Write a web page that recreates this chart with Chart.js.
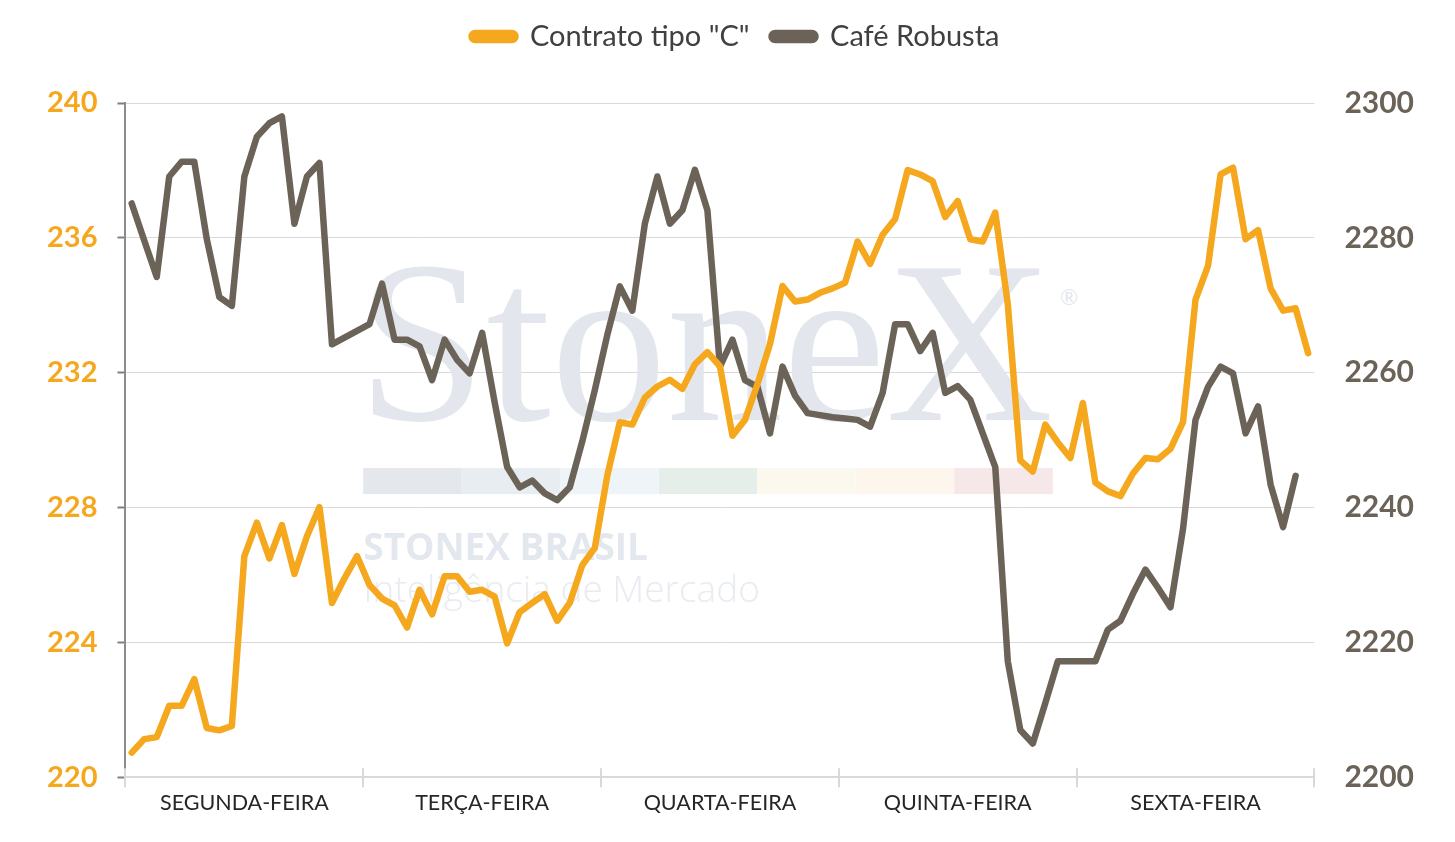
<!DOCTYPE html>
<html>
<head>
<meta charset="utf-8">
<script src="https://cdn.jsdelivr.net/npm/chart.js@4.4.1/dist/chart.umd.min.js"></script>
<style>
  html, body { margin: 0; padding: 0; background: #ffffff; }
  #wrap { width: 1455px; height: 842px; }
</style>
</head>
<body>
<div id="wrap"><canvas id="c" width="1455" height="842"></canvas></div>
<script>
// ---- data ----
const days = ['SEGUNDA-FEIRA', 'TERÇA-FEIRA', 'QUARTA-FEIRA', 'QUINTA-FEIRA', 'SEXTA-FEIRA'];
const pointsPerDay = 19;
const seriesNames = ['Contrato tipo "C"', 'Café Robusta'];

const contratoC = [
  220.73, 221.13, 221.19, 222.12, 222.12, 222.91, 221.46, 221.39, 221.52, 226.56,
  227.55, 226.49, 227.48, 226.03, 227.15, 228.01, 225.17, 225.90, 226.56,
  225.70, 225.30, 225.10, 224.44, 225.56, 224.83, 225.96, 225.96, 225.50, 225.56,
  225.36, 223.97, 224.90, 225.17, 225.43, 224.64, 225.17, 226.29, 226.80,
  228.95, 230.53, 230.46, 231.26, 231.59, 231.79, 231.52, 232.25, 232.61, 232.19,
  230.13, 230.60, 231.66, 232.85, 234.57, 234.11, 234.17, 234.37, 234.50,
  234.67, 235.89, 235.23, 236.09, 236.56, 238.01, 237.88, 237.68, 236.62, 237.09,
  235.96, 235.89, 236.75, 234.04, 229.40, 229.07, 230.46, 229.93, 229.47,
  231.10, 228.74, 228.48, 228.34, 229.01, 229.47, 229.43, 229.74, 230.53, 234.17,
  235.17, 237.88, 238.08, 235.96, 236.23, 234.50, 233.84, 233.91, 232.58
];
const cafeRobusta = [
  2285.1, 2279.6, 2274.2, 2289.1, 2291.3, 2291.3, 2279.8, 2271.2, 2269.9, 2289.1,
  2295.0, 2297.0, 2298.0, 2282.1, 2289.1, 2291.1, 2264.2, 2265.2, 2266.2,
  2267.2, 2273.2, 2264.9, 2264.9, 2263.9, 2258.9, 2264.9, 2261.9, 2259.9, 2265.9,
  2255.6, 2246.0, 2243.0, 2244.0, 2242.1, 2241.1, 2243.0, 2249.8, 2257.4,
  2265.6, 2272.8, 2269.2, 2282.1, 2289.1, 2282.1, 2284.1, 2290.1, 2284.1, 2260.9,
  2264.9, 2258.9, 2257.9, 2251.0, 2260.9, 2256.6, 2254.0, 2253.7, 2253.4,
  2253.2, 2253.0, 2252.0, 2257.0, 2267.2, 2267.2, 2263.2, 2265.9, 2257.0, 2258.0,
  2256.0, 2251.0, 2246.0, 2217.2, 2207.0, 2205.0, 2211.0, 2217.2, 2217.2,
  2217.2, 2217.2, 2221.9, 2223.2, 2227.2, 2230.8, 2228.1, 2225.2, 2236.8, 2253.0,
  2257.9, 2260.9, 2259.9, 2251.0, 2255.0, 2243.4, 2237.1, 2244.7, null
];
const leftTicks = [220, 224, 228, 232, 236, 240];
const rightTicks = [2200, 2220, 2240, 2260, 2280, 2300];

// one label per intraday point (its day)
const pointLabels = [];
days.forEach(d => { for (let k = 0; k < pointsPerDay; k++) pointLabels.push(d); });

const ORANGE = '#F5A71D';
const GRAY = '#6B6358';
const FONT = 'Lato, "Open Sans", sans-serif';

// extra room under the legend
const legendSpace = {
  id: 'legendSpace',
  beforeInit(chart) {
    const orig = chart.legend.fit;
    chart.legend.fit = function () { orig.call(this); this.height += 42; };
  }
};

// faint watermark behind lines
const watermark = {
  id: 'watermark',
  beforeDatasetsDraw(chart) {
    const a = chart.chartArea;
    const w = a.right - a.left, h = a.bottom - a.top;
    const ctx = chart.ctx;
    const x0 = a.left + w * 0.2;
    ctx.save();
    ctx.fillStyle = '#E3E7ED';
    ctx.font = '232px "Liberation Serif", "DejaVu Serif", serif';
    ctx.textBaseline = 'alphabetic';
    ctx.fillText('StoneX', x0 - 6, a.top + h * 0.47);
    ctx.font = '22px ' + FONT;
    ctx.fillText('®', a.left + w * 0.786, a.top + h * 0.3);
    const cols = ['#E4E7EC', '#E8EDF2', '#EFF4F8', '#E6EEEA', '#FBF9EE', '#FDF6EC', '#F6E7E9'];
    const bw = w * 0.58 / cols.length;
    cols.forEach((c, k) => { ctx.fillStyle = c; ctx.fillRect(x0 + k * bw, a.top + h * 0.5415, bw, h * 0.0386); });
    ctx.fillStyle = '#E3E7EE';
    ctx.font = 'bold 37px "Open Sans", sans-serif';
    ctx.fillText('STONEX BRASIL', x0, a.top + h * 0.678);
    ctx.fillStyle = '#E8EBF0';
    ctx.font = '300 37px "Open Sans", sans-serif';
    ctx.fillText('Inteligência de Mercado', x0, a.top + h * 0.74);
    ctx.restore();
  }
};

// x-axis tick marks crossing the axis line
const dayTicks = {
  id: 'dayTicks',
  afterDraw(chart) {
    const s = chart.scales.xDays;
    const ctx = chart.ctx;
    const y = chart.chartArea.bottom;
    ctx.save();
    ctx.strokeStyle = '#D9D9D9';
    ctx.lineWidth = 2;
    for (let k = 0; k <= days.length; k++) {
      const px = Math.round(s.getPixelForValue(k - 0.5));
      ctx.beginPath();
      ctx.moveTo(px, y - 9);
      ctx.lineTo(px, y + 10);
      ctx.stroke();
    }
    ctx.restore();
  }
};

new Chart(document.getElementById('c'), {
  type: 'line',
  data: {
    labels: pointLabels,
    datasets: [
      {
        label: seriesNames[0], data: contratoC, yAxisID: 'y', xAxisID: 'x',
        borderColor: ORANGE, backgroundColor: ORANGE, borderWidth: 6.5,
        pointRadius: 0, tension: 0, borderJoinStyle: 'round', borderCapStyle: 'round'
      },
      {
        label: seriesNames[1], data: cafeRobusta, yAxisID: 'y1', xAxisID: 'x',
        borderColor: GRAY, backgroundColor: GRAY, borderWidth: 6.5,
        pointRadius: 0, tension: 0, borderJoinStyle: 'round', borderCapStyle: 'round'
      }
    ]
  },
  options: {
    responsive: false,
    animation: false,
    devicePixelRatio: 1,
    layout: { padding: { top: 0, left: 27, right: 11, bottom: 23 } },
    plugins: {
      tooltip: { enabled: false },
      legend: {
        position: 'top',
        labels: {
          color: '#404040',
          font: { family: FONT, size: 29 },
          boxWidth: 44, boxHeight: 7,
          useBorderRadius: true, borderRadius: 3.5,
          padding: 22
        }
      }
    },
    scales: {
      x: {
        type: 'category', display: false, offset: true
      },
      xDays: {
        type: 'category', labels: days, position: 'bottom', offset: true,
        grid: { offset: true, drawOnChartArea: false, drawTicks: true, tickLength: 10, color: '#D9D9D9', lineWidth: 2 },
        border: { display: true, color: '#D9D9D9', width: 2 },
        ticks: { color: '#262626', font: { family: FONT, size: 21.5 }, padding: 3, maxRotation: 0, autoSkip: false }
      },
      y: {
        position: 'left', min: 220, max: 240,
        afterBuildTicks: s => { s.ticks = leftTicks.map(v => ({ value: v })); },
        grid: { color: '#D9D9D9', lineWidth: 1, tickLength: 8, tickColor: '#7F7F7F', tickWidth: 2 },
        border: { display: true, color: '#8C8C8C', width: 2 },
        ticks: { color: ORANGE, font: { family: FONT, size: 29, weight: 'bold' }, padding: 20,
                 callback: v => String(v) }
      },
      y1: {
        position: 'right', min: 2200, max: 2300,
        afterBuildTicks: s => { s.ticks = rightTicks.map(v => ({ value: v })); },
        grid: { drawOnChartArea: false, drawTicks: false },
        border: { display: false },
        ticks: { color: GRAY, font: { family: FONT, size: 30, weight: 'bold' }, padding: 30,
                 callback: v => String(v) }
      }
    }
  },
  plugins: [legendSpace, watermark, dayTicks]
});
</script>
</body>
</html>
